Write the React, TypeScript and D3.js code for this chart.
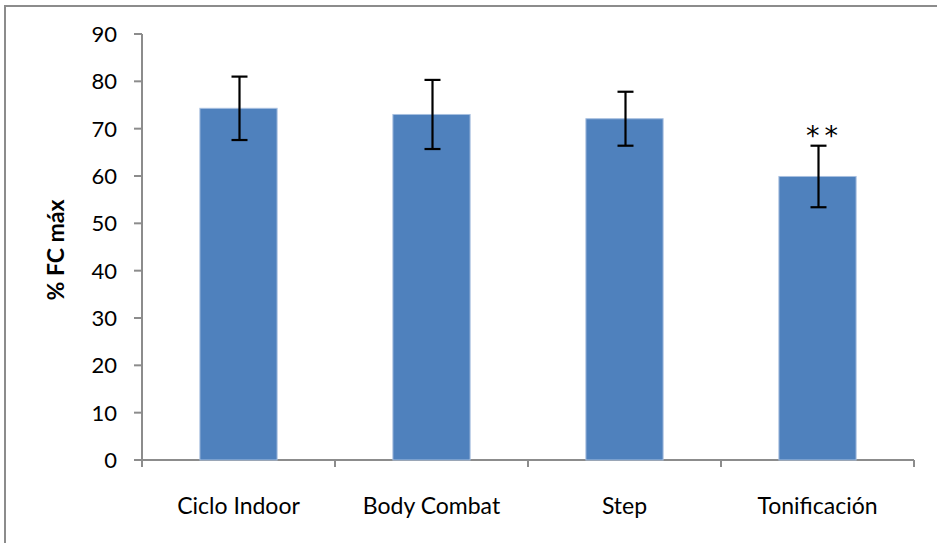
import React from "react";
import * as d3 from "d3";

const categories = ["Ciclo Indoor", "Body Combat", "Step", "Tonificación"];
const means = [74.3, 73.0, 72.1, 59.9];
const errors = [6.7, 7.3, 5.7, 6.5];
const marks = ["", "", "", "**"];
const yTicks = [0, 10, 20, 30, 40, 50, 60, 70, 80, 90];
const yLabel = "% FC máx";

const W = 937;
const H = 543;
const FONT = "Lato, 'Open Sans', sans-serif";

export default function App() {
  const left = 142;
  const right = 914;
  const top = 34;
  const bottom = 460;

  const x = d3
    .scaleBand<string>()
    .domain(categories)
    .range([left, right])
    .paddingInner(0.6)
    .paddingOuter(0.3);
  const step = (right - left) / categories.length;
  const y = d3.scaleLinear().domain([0, 90]).range([bottom, top]);

  const axisColor = "#8c8c8c";

  return (
    <svg
      width={W}
      height={H}
      style={{ position: "absolute", left: 0, top: 0, display: "block", background: "#fff" }}
    >
      {/* outer chart frame */}
      <rect x={5} y={6} width={W + 20} height={H + 20} fill="#fff" stroke={axisColor} strokeWidth={2} />

      {/* y axis */}
      <line x1={left} x2={left} y1={y(90)} y2={bottom + 7} stroke={axisColor} strokeWidth={2} />
      {yTicks.map((t) => (
        <g key={t}>
          <line x1={left - 8} x2={left} y1={y(t)} y2={y(t)} stroke={axisColor} strokeWidth={2} />
          <text
            x={117}
            y={y(t)}
            dy="0.36em"
            textAnchor="end"
            fontFamily={FONT}
            fontSize={22}
            fill="#000"
          >
            {t}
          </text>
        </g>
      ))}

      {/* x axis */}
      <line x1={left - 8} x2={right} y1={bottom} y2={bottom} stroke={axisColor} strokeWidth={2} />
      {d3.range(categories.length + 1).map((i) => (
        <line
          key={i}
          x1={left + i * step}
          x2={left + i * step}
          y1={bottom}
          y2={bottom + 7}
          stroke={axisColor}
          strokeWidth={2}
        />
      ))}

      {/* bars */}
      {categories.map((c, i) => (
        <rect
          key={c}
          x={x(c)!}
          y={y(means[i])}
          width={x.bandwidth()}
          height={bottom - y(means[i])}
          fill="#4f81bd"
          stroke="#a7bfdf"
          strokeWidth={1}
        />
      ))}

      {/* error bars */}
      {categories.map((c, i) => {
        const cx = x(c)! + x.bandwidth() / 2 + 1;
        const hi = y(means[i] + errors[i]);
        const lo = y(means[i] - errors[i]);
        return (
          <g key={c} stroke="#000" strokeWidth={2.2}>
            <line x1={cx} x2={cx} y1={hi} y2={lo} />
            <line x1={cx - 8} x2={cx + 8} y1={hi} y2={hi} />
            <line x1={cx - 8} x2={cx + 8} y1={lo} y2={lo} />
          </g>
        );
      })}

      {/* significance marks */}
      {categories.map((c, i) =>
        marks[i] ? (
          <text
            key={c}
            x={x(c)! + x.bandwidth() / 2 + 7}
            y={y(means[i] + errors[i]) - 1}
            textAnchor="middle"
            fontFamily="'DejaVu Sans', sans-serif"
            fontSize={27}
            letterSpacing={5}
            fill="#000"
          >
            {marks[i]}
          </text>
        ) : null
      )}

      {/* category labels */}
      {categories.map((c) => (
        <text
          key={c}
          x={x(c)! + x.bandwidth() / 2}
          y={514}
          textAnchor="middle"
          fontFamily={FONT}
          fontSize={23}
          fill="#000"
        >
          {c}
        </text>
      ))}

      {/* y axis title */}
      <text
        transform={`translate(64, 250) rotate(-90)`}
        textAnchor="middle"
        fontFamily={FONT}
        fontSize={23}
        fontWeight="bold"
        fill="#000"
      >
        {yLabel}
      </text>
    </svg>
  );
}
